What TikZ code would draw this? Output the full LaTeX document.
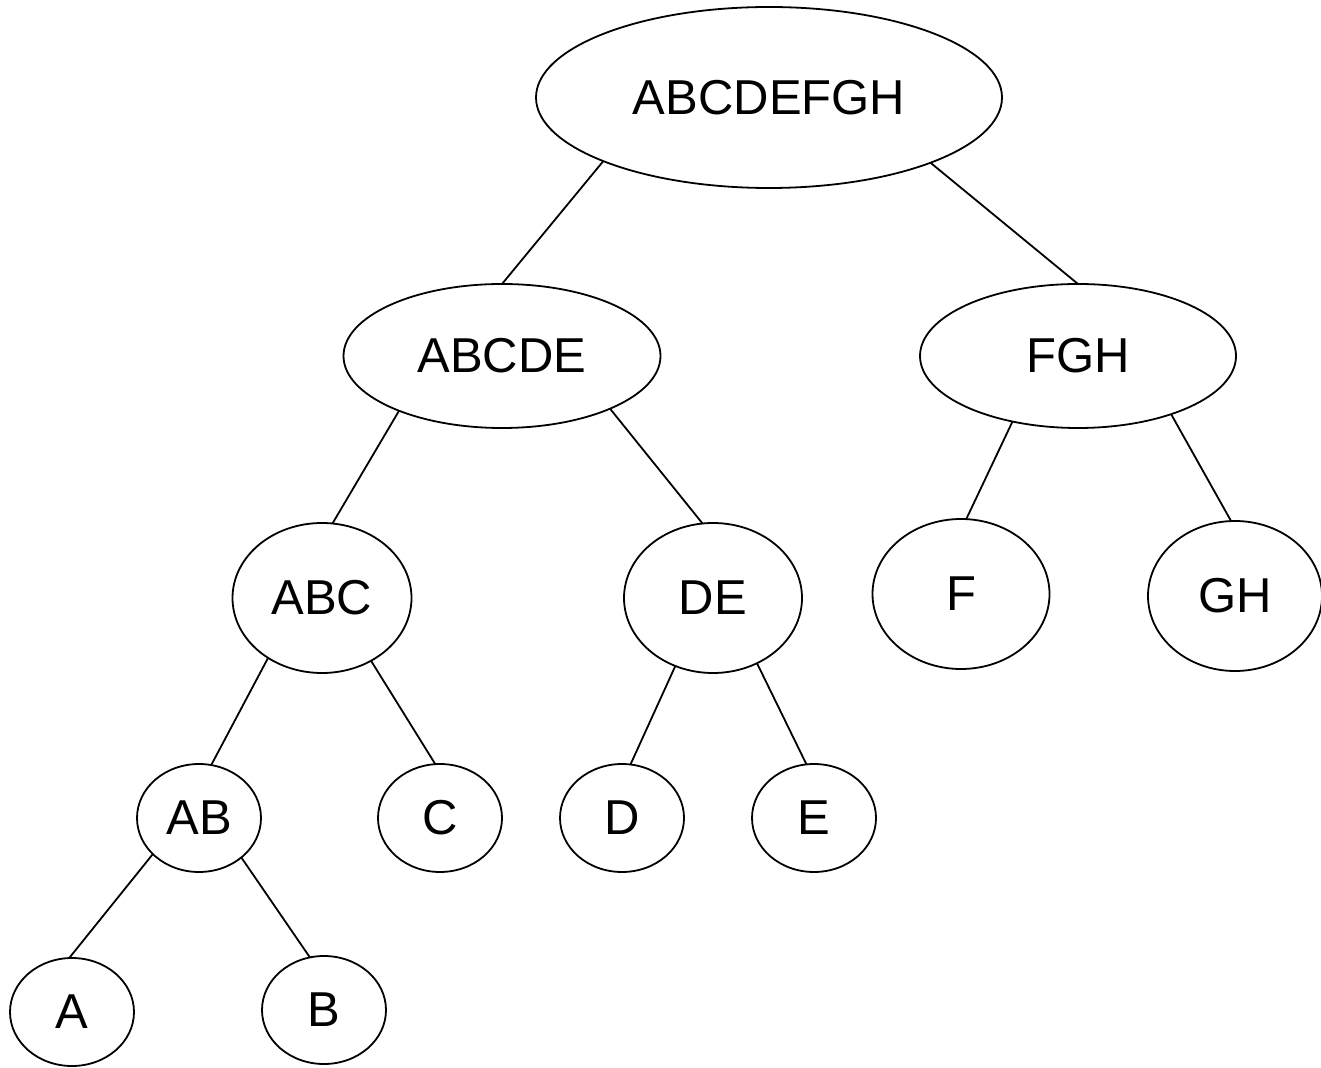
\documentclass[tikz,border=0pt]{standalone}
\usepackage{fontspec}
\setmainfont{Liberation Sans}
\usetikzlibrary{shapes.geometric}
\tikzset{
  tnode/.style={draw=black, line width=0.9pt, ellipse, inner sep=0pt, outer sep=0pt, font=\fontsize{24.5pt}{28pt}\selectfont},
  edge/.style={draw=black, line width=0.9pt}
}
\begin{document}
\begin{tikzpicture}[x=0.5pt,y=-0.5pt]
\useasboundingbox (0,0) rectangle (1321,1068);
\node[tnode, minimum width=233pt, minimum height=90.5pt] (root) at (769,97.5) {ABCDEFGH};
\node[tnode, minimum width=158.5pt, minimum height=72pt] (abcde) at (502,356) {ABCDE};
\node[tnode, minimum width=158pt, minimum height=72pt] (fgh) at (1078,356) {FGH};
\node[tnode, minimum width=89.5pt, minimum height=75pt] (abc) at (322,598) {ABC};
\node[tnode, minimum width=89pt, minimum height=75pt] (de) at (713,598) {DE};
\node[tnode, minimum width=88.5pt, minimum height=75pt] (f) at (961,594) {F};
\node[tnode, minimum width=87pt, minimum height=75pt] (gh) at (1235,596) {GH};
\node[tnode, minimum width=62pt, minimum height=54pt] (ab) at (199,818) {AB};
\node[tnode, minimum width=62pt, minimum height=54pt] (c) at (440,818) {C};
\node[tnode, minimum width=62pt, minimum height=54pt] (d) at (622,818) {D};
\node[tnode, minimum width=62pt, minimum height=54pt] (e) at (814,818) {E};
\node[tnode, minimum width=62pt, minimum height=54pt] (a) at (72,1012) {A};
\node[tnode, minimum width=62pt, minimum height=54pt] (b) at (324,1010) {B};
\draw[edge] (root.201.4) -- (abcde.north);
\draw[edge] (root.338.6) -- (fgh.north);
\draw[edge] (abcde.208.8) -- (abc.82.5);
\draw[edge] (abcde.334.9) -- (de.98.1);
\draw[edge] (fgh.225) -- (f.86.1);
\draw[edge] (fgh.328.2) -- (gh.93.7);
\draw[edge] (abc.228) -- (ab.77.5);
\draw[edge] (abc.308.4) -- (c.95.1);
\draw[edge] (de.241.2) -- (d.81.6);
\draw[edge] (de.304.1) -- (e.98);
\draw[edge] (ab.218.2) -- (a.93.1);
\draw[edge] (ab.317.1) -- (b.105.8);
\end{tikzpicture}
\end{document}
